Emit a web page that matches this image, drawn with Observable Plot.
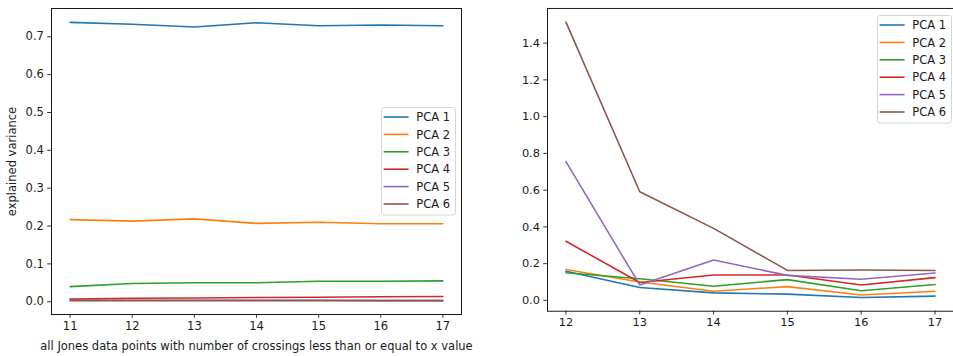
<!DOCTYPE html>
<html>
<head>
<meta charset="utf-8">
<script src="https://cdn.jsdelivr.net/npm/d3@7"></script>
<script src="https://cdn.jsdelivr.net/npm/@observablehq/plot@0.6"></script>
<style>
  body { margin: 0; background: #fff; }
  #wrap { display: flex; width: 953px; height: 356px; }
  .panel { position: relative; height: 356px; overflow: hidden; flex: none; }
  .panel svg.legend { position: absolute; overflow: visible; }
</style>
</head>
<body>
<div id="wrap">
  <div class="panel" id="left" style="width:480px"></div>
  <div class="panel" id="right" style="width:473px"></div>
</div>
<script>
// Explained variance per principal component, all Jones data points
const seriesNames = ["PCA 1", "PCA 2", "PCA 3", "PCA 4", "PCA 5", "PCA 6"];
const seriesColors = ["#1f77b4", "#ff7f0e", "#2ca02c", "#d62728", "#9467bd", "#8c564b"];

// Left panel: crossings 11..17
const leftCrossings = [11, 12, 13, 14, 15, 16, 17];
const leftPCA1 = [0.738, 0.733, 0.726, 0.737, 0.729, 0.731, 0.729];
const leftPCA2 = [0.217, 0.213, 0.219, 0.207, 0.210, 0.206, 0.206];
const leftPCA3 = [0.040, 0.048, 0.050, 0.050, 0.054, 0.054, 0.055];
const leftPCA4 = [0.007, 0.009, 0.010, 0.011, 0.012, 0.013, 0.014];
const leftPCA5 = [0.004, 0.004, 0.004, 0.004, 0.004, 0.003, 0.003];
const leftPCA6 = [0.003, 0.003, 0.003, 0.003, 0.003, 0.003, 0.003];
const leftYTicks = [0.0, 0.1, 0.2, 0.3, 0.4, 0.5, 0.6, 0.7];

// Right panel: crossings 12..17
const rightCrossings = [12, 13, 14, 15, 16, 17];
const rightPCA1 = [0.159, 0.070, 0.041, 0.034, 0.016, 0.023];
const rightPCA2 = [0.168, 0.100, 0.050, 0.075, 0.029, 0.050];
const rightPCA3 = [0.150, 0.118, 0.077, 0.113, 0.052, 0.086];
const rightPCA4 = [0.322, 0.097, 0.138, 0.138, 0.084, 0.124];
const rightPCA5 = [0.755, 0.084, 0.220, 0.136, 0.115, 0.149];
const rightPCA6 = [1.514, 0.591, 0.392, 0.163, 0.165, 0.163];
const rightYTicks = [0.0, 0.2, 0.4, 0.6, 0.8, 1.0, 1.2, 1.4];

const xLabel = "all Jones data points with number of crossings less than or equal to x value";
const yLabel = "explained variance";

function tidy(xs, columns) {
  const rows = [];
  columns.forEach((vals, i) => {
    vals.forEach((v, j) => rows.push({x: xs[j], y: v, series: seriesNames[i]}));
  });
  return rows;
}

// 5% padding around the data range, like matplotlib's autoscale
function padded(lo, hi) {
  const p = (hi - lo) * 0.05;
  return [lo - p, hi + p];
}

const fontStyle = {fontFamily: "DejaVu Sans", fontSize: "11.5px", color: "#1a1a1a", background: "#fff", overflow: "visible"};

function panel({data, xs, yTicks, width, marginLeft, marginRight, xDomain, xlabel, ylabel}) {
  const ys = data.map(d => d.y);
  return Plot.plot({
    width, height: 356,
    marginLeft, marginRight, marginTop: 8, marginBottom: 42,
    style: fontStyle,
    x: {domain: xDomain},
    y: {domain: padded(d3.min(ys), d3.max(ys))},
    color: {domain: seriesNames, range: seriesColors},
    marks: [
      Plot.line(data, {x: "x", y: "y", z: "series", stroke: "series", strokeWidth: 1.6}),
      Plot.axisX({ticks: xs, tickFormat: d3.format("d"), tickSize: 3.8, tickPadding: 3.2, strokeWidth: 0.9,
        label: xlabel, labelAnchor: "center", labelArrow: "none", labelOffset: 35}),
      Plot.axisY({ticks: yTicks, tickFormat: d3.format(".1f"), tickSize: 3.8, tickPadding: 3.8, strokeWidth: 0.9,
        label: ylabel, labelAnchor: "center", labelArrow: "none", labelOffset: 44}),
      Plot.frame({stroke: "#000", strokeWidth: 0.9})
    ]
  });
}

function legend(container, left, top) {
  const svg = d3.select(container).append("svg")
    .attr("class", "legend")
    .attr("width", 75).attr("height", 109)
    .style("left", left + "px").style("top", top + "px");
  svg.append("rect").attr("x", 0.5).attr("y", 0.5).attr("width", 74).attr("height", 107.5)
    .attr("rx", 2.5).attr("fill", "rgba(255,255,255,0.8)").attr("stroke", "#d6d6d6").attr("stroke-width", 1);
  seriesNames.forEach((name, i) => {
    const cy = 10 + i * 17.4;
    svg.append("line").attr("x1", 2.6).attr("x2", 27.6).attr("y1", cy).attr("y2", cy)
      .attr("stroke", seriesColors[i]).attr("stroke-width", 1.6);
    svg.append("text").attr("x", 35.3).attr("y", cy).attr("dy", "0.36em")
      .attr("font-family", "DejaVu Sans").attr("font-size", 11.5).attr("fill", "#1a1a1a").text(name);
  });
}

const leftData = tidy(leftCrossings, [leftPCA1, leftPCA2, leftPCA3, leftPCA4, leftPCA5, leftPCA6]);
const rightData = tidy(rightCrossings, [rightPCA1, rightPCA2, rightPCA3, rightPCA4, rightPCA5, rightPCA6]);

const leftEl = document.getElementById("left");
leftEl.append(panel({
  data: leftData, xs: leftCrossings, yTicks: leftYTicks,
  width: 480, marginLeft: 51, marginRight: 19, xDomain: [10.7, 17.3],
  xlabel: xLabel, ylabel: yLabel
}));
legend(leftEl, 380.7, 106.7);

const rightEl = document.getElementById("right");
rightEl.append(panel({
  data: rightData, xs: rightCrossings, yTicks: rightYTicks,
  width: 478, marginLeft: 67.7, marginRight: 0, xDomain: [11.75, 17.25],
  xlabel: null, ylabel: null
}));
legend(rightEl, 396.7, 14.7);
</script>
</body>
</html>
